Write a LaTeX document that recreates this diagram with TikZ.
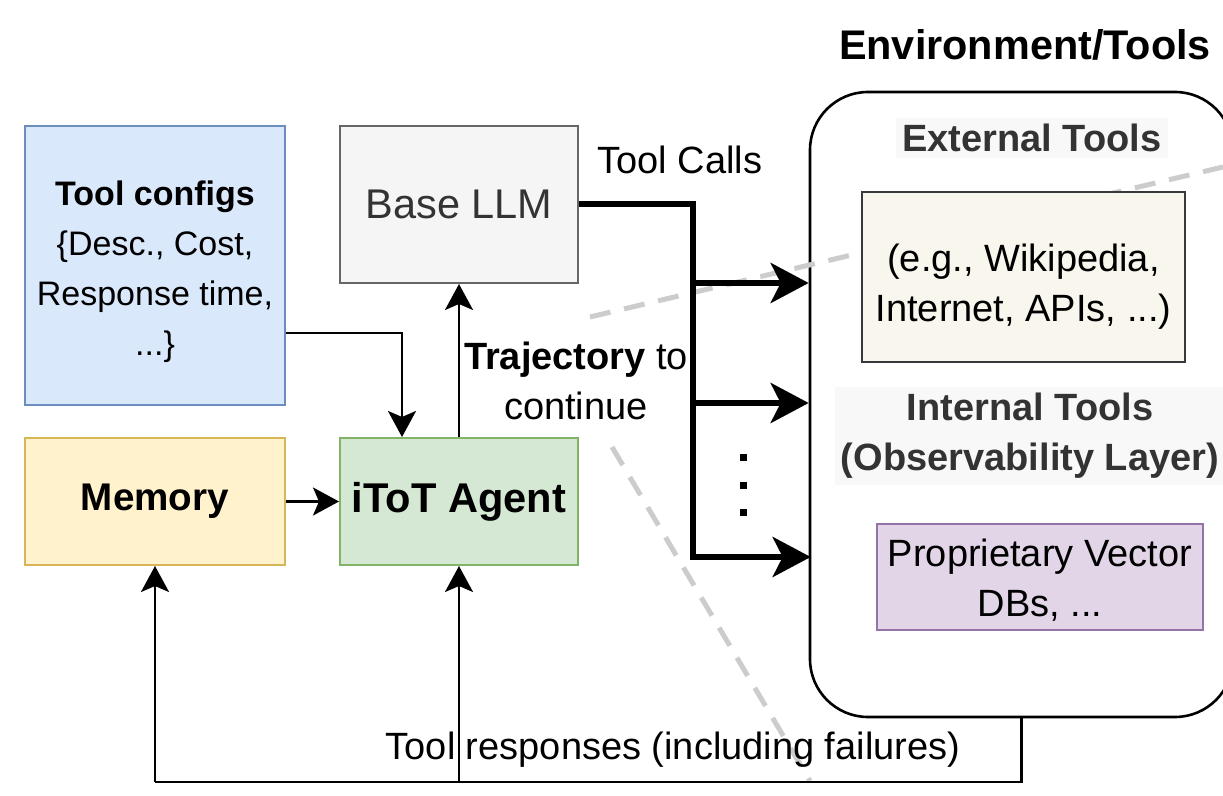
\documentclass[tikz,border=0pt]{standalone}
\usepackage{fontspec}
\setmainfont{Liberation Sans}
\usetikzlibrary{arrows.meta,positioning,calc}
\definecolor{cfgfill}{HTML}{DAE8FC}\definecolor{cfgdraw}{HTML}{6C8EBF}
\definecolor{llmfill}{HTML}{F5F5F5}\definecolor{llmdraw}{HTML}{666666}
\definecolor{memfill}{HTML}{FFF2CC}\definecolor{memdraw}{HTML}{D6B656}
\definecolor{agfill}{HTML}{D5E8D4}\definecolor{agdraw}{HTML}{82B366}
\definecolor{extfill}{HTML}{F9F7ED}\definecolor{extdraw}{HTML}{36393D}
\definecolor{prfill}{HTML}{E1D5E7}\definecolor{prdraw}{HTML}{9673A6}
\definecolor{txtgray}{HTML}{333333}
\definecolor{dashgray}{HTML}{CCCCCC}
\definecolor{lblbg}{HTML}{F8F8F8}
\newcommand{\tallby}[1]{\rule{0pt}{#1}}
\tikzset{
  box/.style={draw, line width=1pt, inner sep=0pt, align=center, anchor=center},
  fs/.style={font=\fontsize{19}{25}\selectfont},
  thin arrow/.style={line width=1.3pt, -{Stealth[length=13pt,width=14pt,inset=3pt]}},
  thick arrow/.style={line width=3pt, -{Stealth[length=19pt,width=20pt,inset=5pt]}},
  thick line/.style={line width=3pt},
  thin line/.style={line width=1.3pt},
  zoomline/.style={dashgray, line width=2.5pt, dash pattern=on 10.5pt off 7pt},
}
\begin{document}
\begin{tikzpicture}[x=0.5pt,y=-0.5pt]
\useasboundingbox (0,0) rectangle (1223,796);
% environment box
\node[box, line width=1.3pt, fill=white, rounded corners=29pt, minimum width=211.5pt, minimum height=312.5pt] (env) at (1021.5,404.5) {};
\node[font=\bfseries\fontsize{20.7}{25}\selectfont] (envtitle) at (1025,45) {Environment/Tools};
% zoom lines
\draw[zoomline] (590,317) -- (1223,167);
\draw[zoomline] (612,447) -- (810,781);
% inner boxes
\node[font=\bfseries\fontsize{19}{25}\selectfont, text=txtgray, fill=lblbg, inner sep=3pt] (extlbl) at (1032,138) {External Tools};
\node[box, fill=extfill, draw=extdraw, minimum width=161.5pt, minimum height=85pt, fs] (ext) at (1023.5,277) {\tallby{23.5pt}(e.g., Wikipedia,\\Internet, APIs, ...)};
\node[font=\bfseries\fontsize{19}{25}\selectfont, text=txtgray, fill=lblbg, inner sep=3pt, align=center] (intlbl) at (1030,436) {Internal Tools\\(Observability Layer)};
\node[box, fill=prfill, draw=prdraw, minimum width=163pt, minimum height=53pt, fs] (prop) at (1040,577) {\tallby{17pt}Proprietary Vector\\DBs, ...};
% left boxes
\node[box, fill=cfgfill, draw=cfgdraw, minimum width=130pt, minimum height=139.5pt, font=\fontsize{17}{25}\selectfont] (cfg) at (155,265.5) {\tallby{18.4pt}\textbf{Tool configs}\\\{Desc., Cost,\\Response time,\\...\}};
\node[box, fill=llmfill, draw=llmdraw, minimum width=119pt, minimum height=78.5pt, text=txtgray, font=\fontsize{20.75}{25}\selectfont] (llm) at (459,204.5) {Base LLM};
\node[box, fill=memfill, draw=memdraw, minimum width=130pt, minimum height=63.5pt, font=\bfseries\fontsize{19.3}{25}\selectfont] (mem) at (155,501.5) {Memory};
\node[box, fill=agfill, draw=agdraw, minimum width=119pt, minimum height=63.5pt, font=\bfseries\fontsize{20.8}{25}\selectfont] (agent) at (459,501.5) {iToT Agent};
% labels
\node[fs] (calls) at (680,160) {Tool Calls};
\node[fs, align=center] (traj) at (576,381) {\textbf{Trajectory} to\\continue};
\node[fs] (resp) at (673,750) {Tool responses (including failures)};
% connectors left
\draw[thin arrow] ([yshift=-33.75pt]cfg.east) -| ([xshift=-28.5pt]agent.north);
\draw[thin arrow] (agent.north) -- (llm.south);
\draw[thin arrow] (mem.east) -- (agent.west);
% tool calls bus
\coordinate (bustop) at (693,204.5);
\coordinate (bus1) at (693,283);
\coordinate (bus2) at (693,403);
\coordinate (bus3) at (693,557);
\draw[thick line, line join=miter] (llm.east) -- (bustop) -- (bus3);
\draw[thick arrow] (bus1) -- (env.west |- bus1);
\draw[thick arrow] (bus2) -- (env.west |- bus2);
\draw[thick arrow] ([xshift=-1.5pt]bus3) -- ([xshift=1pt]env.west |- bus3);
% dots
\foreach \yy in {458,486,513} \fill (739.5,\yy-3.5) rectangle (746.5,\yy+3.5);
% responses
\coordinate (rb) at (1021.5,782);
\coordinate (rm) at (459,782);
\coordinate (rl) at (155,782);
\draw[thin line] (env.south) -- (rb) -- (rl);
\draw[thin arrow] (rl) -- (mem.south);
\draw[thin arrow] (rm) -- (agent.south);
\end{tikzpicture}
\end{document}
